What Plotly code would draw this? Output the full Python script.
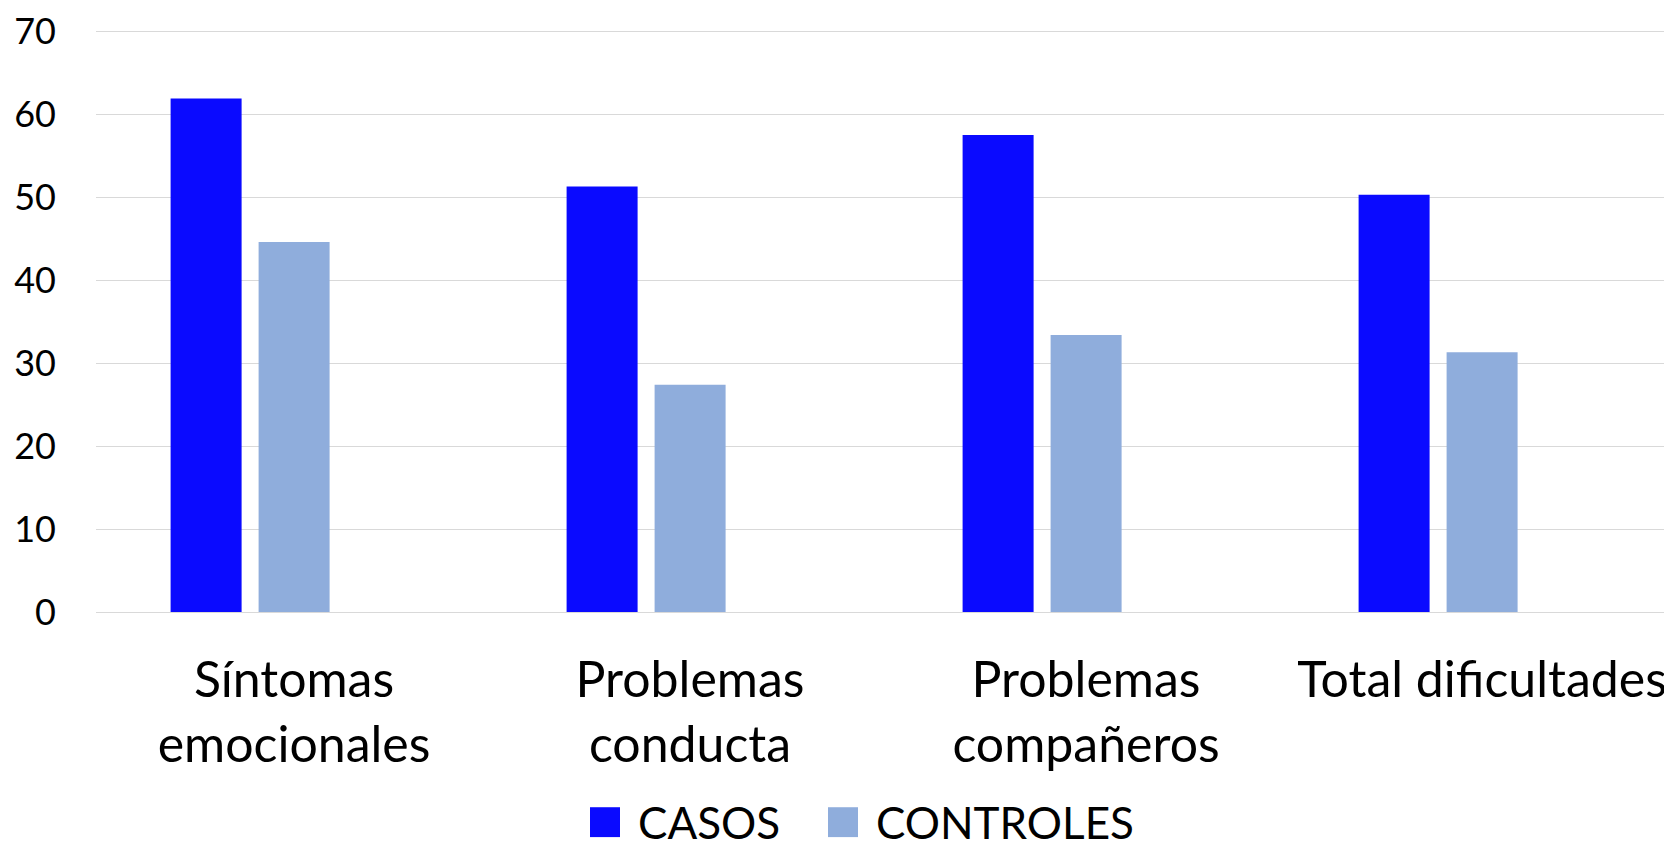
import plotly.graph_objects as go

categories = ["Síntomas<br>emocionales", "Problemas<br>conducta", "Problemas<br>compañeros", "Total dificultades"]
series_names = ["CASOS", "CONTROLES"]
casos = [61.9, 51.3, 57.5, 50.3]
controles = [44.6, 27.4, 33.4, 31.3]
y_ticks = [0, 10, 20, 30, 40, 50, 60, 70]

colors = ["#0A0AFF", "#8FADDC"]

# page is 1672x852; the page body has an 8px margin, so the figure is sized to fit inside
PAGE_W, PAGE_H = 1672, 852
BODY = 8
W, H = PAGE_W - BODY, PAGE_H - BODY

Y_MIN, Y_TOP_TICK, Y_MAX = 0, 70, 70.4
PX_ZERO, PX_TOP_TICK = 612, 29                 # page pixels of y=0 and y=70
px_per_unit = (PX_ZERO - PX_TOP_TICK) / (Y_TOP_TICK - Y_MIN)
PLOT_L = 96
PLOT_B = PX_ZERO
PLOT_T = PX_TOP_TICK - (Y_MAX - Y_TOP_TICK) * px_per_unit

L, T = PLOT_L - BODY, PLOT_T - BODY
B = PAGE_H - PLOT_B
R = 0
PW, PH = W - L - R, H - T - B

CAT_PX = 396.0
BAR_PX = 71.0
offsets_px = [-123.4, -35.4]

FONT = "Lato"

fig = go.Figure()
for name, vals, col, off in zip(series_names, [casos, controles], colors, offsets_px):
    fig.add_trace(go.Bar(
        x=list(range(len(categories))), y=vals, name=name,
        marker=dict(color=col, line=dict(width=0)),
        width=BAR_PX / CAT_PX, offset=off / CAT_PX,
        showlegend=False,
    ))

def px_x(px):
    return (px - PLOT_L) / PW

def px_y(py):
    return (PLOT_B - py) / PH

# manual legend (page pixel positions)
LEG_CY = 823
legend_items = [
    (series_names[0], colors[0], 590, 636),
    (series_names[1], colors[1], 828, 874),
]
for name, col, sq_x, tx_x in legend_items:
    fig.add_shape(type="rect", xref="paper", yref="paper",
                  x0=px_x(sq_x), x1=px_x(sq_x + 30), y0=px_y(LEG_CY + 15), y1=px_y(LEG_CY - 15),
                  fillcolor=col, line=dict(width=0))
    fig.add_annotation(text=name, xref="paper", yref="paper",
                       x=px_x(tx_x), y=px_y(LEG_CY), xanchor="left", yanchor="middle",
                       showarrow=False, font=dict(family=FONT, size=44, color="#000000"))

fig.update_layout(
    width=W, height=H,
    margin=dict(l=L, r=R, t=T, b=B, pad=0),
    paper_bgcolor="white", plot_bgcolor="white",
    barmode="overlay",
    showlegend=False,
    font=dict(family=FONT, color="#000000"),
)
fig.update_xaxes(
    tickmode="array", tickvals=list(range(len(categories))), ticktext=categories,
    range=[-0.5, -0.5 + PW / CAT_PX],
    showgrid=False, zeroline=False, showline=False,
    ticks="", tickfont=dict(family=FONT, size=50, color="#000000"),
    ticklabelstandoff=34, ticklabeloverflow="allow",
)
fig.update_yaxes(
    range=[Y_MIN, Y_MAX], tickmode="array", tickvals=y_ticks,
    showgrid=True, gridcolor="#D9D9D9", gridwidth=1.4,
    zeroline=True, zerolinecolor="#D9D9D9", zerolinewidth=1.4,
    showline=False, ticks="",
    tickfont=dict(family=FONT, size=36, color="#000000"),
    ticklabelstandoff=39, ticklabeloverflow="allow",
)

fig.write_html("out.html")
